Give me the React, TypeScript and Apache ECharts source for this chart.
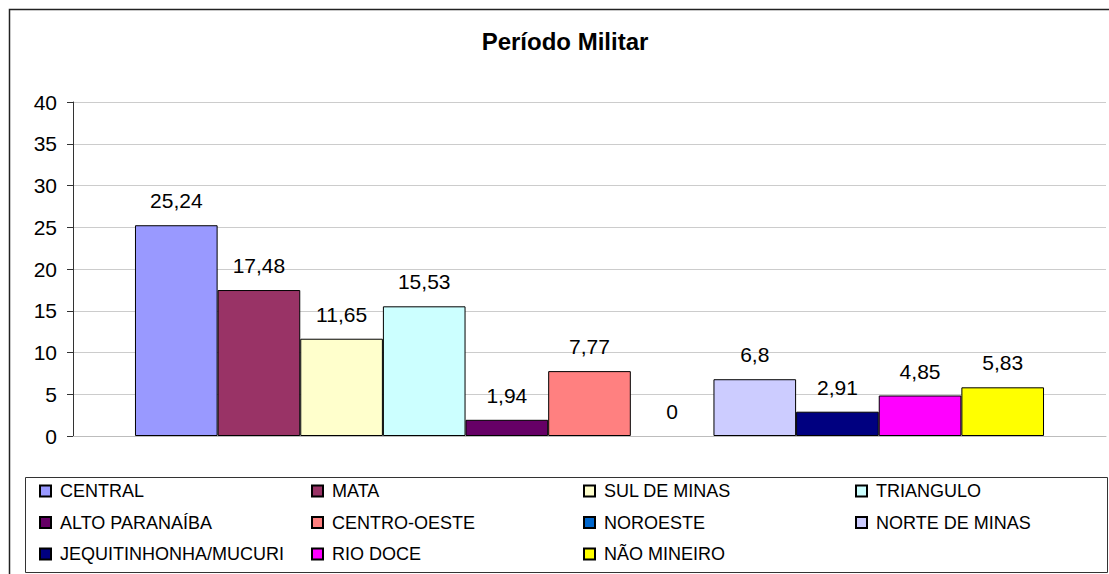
import React, { useEffect, useRef } from "react";
import * as echarts from "echarts";

const TITLE = "Período Militar";
const seriesNames = [
  "CENTRAL",
  "MATA",
  "SUL DE MINAS",
  "TRIANGULO",
  "ALTO PARANAÍBA",
  "CENTRO-OESTE",
  "NOROESTE",
  "NORTE DE MINAS",
  "JEQUITINHONHA/MUCURI",
  "RIO DOCE",
  "NÃO MINEIRO",
];
const seriesValues = [25.24, 17.48, 11.65, 15.53, 1.94, 7.77, 0, 6.8, 2.91, 4.85, 5.83];
const seriesColors = [
  "#9999FF",
  "#993366",
  "#FFFFCC",
  "#CCFFFF",
  "#660066",
  "#FF8080",
  "#0066CC",
  "#CCCCFF",
  "#000080",
  "#FF00FF",
  "#FFFF00",
];
const categories = [""];

const FONT = "'Liberation Sans', Arial, sans-serif";

export default function App() {
  const ref = useRef<HTMLDivElement>(null);
  useEffect(() => {
    document.body.style.margin = "0";
    document.body.style.overflow = "hidden";
    const chart = echarts.init(ref.current!, undefined, { renderer: "svg" });
    const legends = seriesNames.map((n, i) => ({
      data: [n],
      left: 39 + 272 * (i % 4),
      top: 482 + 31.5 * Math.floor(i / 4),
      padding: 0,
      itemWidth: 11,
      itemHeight: 11,
      icon: "rect",
      selectedMode: false,
      textStyle: { fontFamily: FONT, fontSize: 18, color: "#000", padding: [0, 0, 0, 4] },
    }));
    chart.setOption({
      animation: false,
      backgroundColor: "#fff",
      textStyle: { fontFamily: FONT },
      grid: { left: 73, right: 3, top: 102, bottom: 138, containLabel: false },
      legend: legends,
      xAxis: {
        type: "category",
        data: categories,
        axisLabel: { show: false },
        axisTick: { show: false },
        axisLine: { lineStyle: { color: "#bdbdbd", width: 1 } },
      },
      yAxis: {
        type: "value",
        min: 0,
        max: 40,
        interval: 5,
        axisLine: { show: true, lineStyle: { color: "#333", width: 1 } },
        axisTick: { show: true, length: 6, lineStyle: { color: "#333" } },
        axisLabel: { fontFamily: FONT, fontSize: 21, color: "#000", margin: 16 },
        splitLine: { lineStyle: { color: "#cccccc", width: 1 } },
      },
      series: seriesNames.map((n, i) => ({
        name: n,
        type: "bar",
        data: [
          seriesValues[i] === 0
            ? { value: seriesValues[i], itemStyle: { borderWidth: 0 } }
            : seriesValues[i],
        ],
        barGap: "0%",
        barCategoryGap: "12%",
        itemStyle: { color: seriesColors[i], borderColor: "#000", borderWidth: 1 },
        label: {
          show: true,
          position: "top",
          distance: 14,
          fontFamily: FONT,
          fontSize: 21,
          color: "#000",
          formatter: (p: any) => String(p.value).replace(".", ","),
        },
      })),
      graphic: [
        {
          type: "rect",
          shape: { x: 9.5, y: 9.5, width: 1200, height: 700 },
          style: { fill: "none", stroke: "#222", lineWidth: 1.5 },
          silent: true,
          z: -1,
        },
        {
          type: "rect",
          shape: { x: 25.5, y: 477.5, width: 1082, height: 95 },
          style: { fill: "none", stroke: "#333", lineWidth: 1 },
          silent: true,
        },
        {
          type: "text",
          x: 565,
          y: 41,
          style: {
            text: TITLE,
            fontFamily: FONT,
            fontSize: 24,
            fontWeight: "bold",
            fill: "#000",
            textAlign: "center",
            textVerticalAlign: "middle",
          },
        },
      ],
    });
    return () => chart.dispose();
  }, []);
  return <div ref={ref} style={{ width: 1109, height: 574 }} />;
}
